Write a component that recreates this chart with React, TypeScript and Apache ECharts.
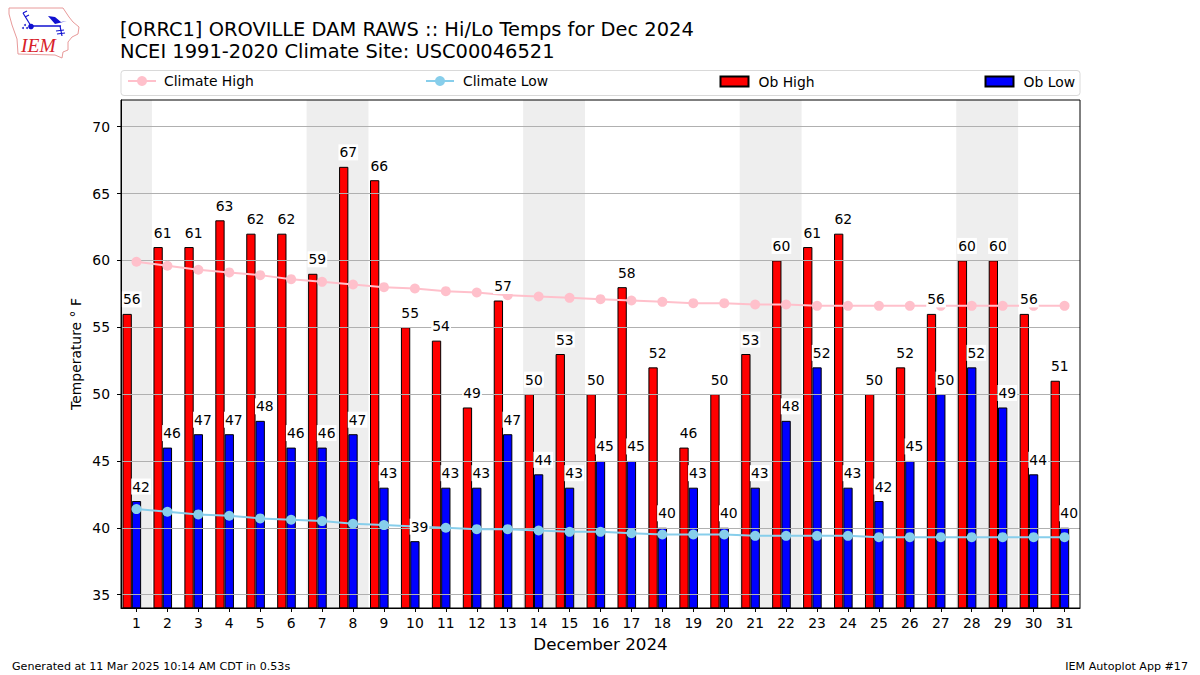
import React, { useEffect, useRef } from "react";
import * as echarts from "echarts";

const days = Array.from({ length: 31 }, (_, i) => String(i + 1));
const obHigh = [56,61,61,63,62,62,59,67,66,55,54,49,57,50,53,50,58,52,46,50,53,60,61,62,50,52,56,60,60,56,51];
const obLow = [42,46,47,47,48,46,46,47,43,39,43,43,47,44,43,45,45,40,43,40,43,48,52,43,42,45,50,52,49,44,40];
const climateHigh = [59.9,59.6,59.3,59.1,58.9,58.6,58.4,58.2,58,57.9,57.7,57.6,57.4,57.3,57.2,57.1,57,56.9,56.8,56.8,56.7,56.7,56.6,56.6,56.6,56.6,56.6,56.6,56.6,56.6,56.6];
const climateLow = [41.4,41.2,41,40.9,40.7,40.6,40.5,40.3,40.2,40.1,40,39.9,39.9,39.8,39.7,39.7,39.6,39.5,39.5,39.5,39.4,39.4,39.4,39.4,39.3,39.3,39.3,39.3,39.3,39.3,39.3];
const weekends: [number, number][] = [[0.5,1.5],[6.5,8.5],[13.5,15.5],[20.5,22.5],[27.5,29.5]];
const yTicks = [35,40,45,50,55,60,65,70];

const FONT = "DejaVu Sans";

function labelSeries(values: number[], dx: number) {
  return {
    type: "scatter",
    data: values,
    symbol: "circle",
    symbolSize: 1,
    z: 6,
    silent: true,
    itemStyle: { color: "rgba(0,0,0,0)", opacity: 1 },
    label: {
      show: true,
      position: "top" as const,
      distance: 6,
      offset: [dx, 0],
      color: "#000",
      opacity: 1,
      fontFamily: FONT,
      fontSize: 13.9,
      backgroundColor: "#fff",
      padding: [1, 1, 1, 1],
    },
  };
}

function legendEntry(name: string, left: number, itemHeight: number, gapAdjust: number) {
  return {
    data: [{ name, icon: itemHeight === 10 ? "rect" : undefined }],
    left,
    top: itemHeight === 10 ? 74.5 : 74,
    orient: "horizontal",
    padding: 0,
    itemWidth: 28,
    itemHeight,
    selectedMode: false,
    textStyle: { fontFamily: FONT, fontSize: 13.9, color: "#000", padding: [0, 0, 0, gapAdjust] },
  };
}

const logo = [
  { type: "polygon", shape: { points: [[9,8],[63,8],[69,17],[73,22],[79,27],[78,34],[72,37],[68,42],[68,50],[63,52],[62,58],[55,55],[18,54],[17,39],[12,25],[9,14]] }, style: { fill: "#fff", stroke: "#e89a9a", lineWidth: 1 } },
  { type: "polyline", shape: { points: [[31,26],[61,26]] }, style: { fill: "none", stroke: "#1010d0", lineWidth: 1.5 } },
  { type: "polyline", shape: { points: [[31,26],[23,13]] }, style: { fill: "none", stroke: "#1010d0", lineWidth: 1.2 } },
  { type: "polyline", shape: { points: [[23,13],[27,11]] }, style: { fill: "none", stroke: "#1010d0", lineWidth: 1.2 } },
  { type: "polyline", shape: { points: [[25,17],[29,15]] }, style: { fill: "none", stroke: "#1010d0", lineWidth: 1.2 } },
  { type: "polyline", shape: { points: [[60,26],[62,36]] }, style: { fill: "none", stroke: "#1010d0", lineWidth: 1.2 } },
  { type: "polyline", shape: { points: [[56,31],[64,30]] }, style: { fill: "none", stroke: "#1010d0", lineWidth: 1.2 } },
  { type: "polyline", shape: { points: [[57,34],[65,33]] }, style: { fill: "none", stroke: "#1010d0", lineWidth: 1.2 } },
  { type: "polygon", shape: { points: [[48,16],[55,17],[61,22],[67,21],[55,24]] }, style: { fill: "#1010d0" } },
  { type: "circle", shape: { cx: 31, cy: 26.5, r: 2.8 }, style: { fill: "#1010d0" } },
  { type: "circle", shape: { cx: 25, cy: 25, r: 1 }, style: { fill: "#3030d0" } },
  { type: "circle", shape: { cx: 23, cy: 28, r: 1 }, style: { fill: "#3030d0" } },
  { type: "circle", shape: { cx: 27, cy: 28, r: 1 }, style: { fill: "#3030d0" } },
  { type: "text", x: 21, y: 35, style: { text: "IEM", fill: "#d8212a", font: "italic 19.5px 'Liberation Serif'" } },
];

export default function App() {
  const ref = useRef<HTMLDivElement>(null);
  useEffect(() => {
    const chart = echarts.init(ref.current!, undefined, { renderer: "svg" });
    chart.setOption({
      animation: false,
      backgroundColor: "#fff",
      textStyle: { fontFamily: FONT },
      grid: { left: 121, right: 120, top: 100, bottom: 67, show: true, borderColor: "#000", borderWidth: 1, backgroundColor: "transparent", z: 5 },
      title: [
        { text: "[ORRC1] OROVILLE DAM RAWS :: Hi/Lo Temps for Dec 2024\nNCEI 1991-2020 Climate Site: USC00046521", left: 120, top: 18, padding: 0, textStyle: { fontFamily: FONT, fontSize: 19.44, fontWeight: "normal", color: "#000", lineHeight: 22.5 } },
        { text: "Generated at 11 Mar 2025 10:14 AM CDT in 0.53s", left: 12, top: 661, padding: 0, textStyle: { fontFamily: FONT, fontSize: 11.11, fontWeight: "normal", color: "#000" } },
        { text: "IEM Autoplot App #17", right: 12, top: 661, padding: 0, textStyle: { fontFamily: FONT, fontSize: 11.11, fontWeight: "normal", color: "#000" } },
      ],
      legend: [
        legendEntry("Climate High", 127, 12.5, 3),
        legendEntry("Climate Low", 425, 12.5, 4),
        legendEntry("Ob High", 719.5, 10, 5),
        legendEntry("Ob Low", 984.5, 10, 5),
      ],
      xAxis: [
        {
          type: "category",
          data: days,
          name: "December 2024",
          nameLocation: "middle",
          nameGap: 27,
          nameMoveOverlap: false,
          nameTextStyle: { fontFamily: FONT, fontSize: 16.7, color: "#000" },
          boundaryGap: true,
          axisLine: { show: true, lineStyle: { color: "#000", width: 1 } },
          axisTick: { show: true, alignWithLabel: true, length: 4, lineStyle: { color: "#000" } },
          axisLabel: { interval: 0, color: "#000", fontFamily: FONT, fontSize: 13.9, margin: 8 },
          splitLine: { show: false },
        },
        { type: "value", min: 0.5, max: 31.5, show: false, splitLine: { show: false } },
      ],
      yAxis: {
        type: "value",
        min: 34,
        max: 72,
        name: "Temperature ° F",
        nameLocation: "middle",
        nameGap: 38,
        nameMoveOverlap: false,
        nameTextStyle: { fontFamily: FONT, fontSize: 13.9, color: "#000" },
        z: 3,
        axisLine: { show: true, lineStyle: { color: "#000", width: 1 } },
        axisTick: { show: true, length: 4, lineStyle: { color: "#000" }, customValues: yTicks },
        axisLabel: { color: "#000", fontFamily: FONT, fontSize: 13.9, margin: 11, customValues: yTicks },
        splitNumber: 8,
        interval: 5,
        splitLine: { show: true, lineStyle: { color: "#b0b0b0", width: 1 } },
      },
      graphic: [
        { type: "rect", z: -1, shape: { x: 121, y: 70.5, width: 959, height: 25, r: 3 }, style: { fill: "#fff", stroke: "#d9d9d9", lineWidth: 1 } },
        ...logo,
      ],
      series: [
        {
          name: "weekend", type: "line", xAxisIndex: 1, data: [], z: 1, silent: true,
          markArea: {
            silent: true,
            itemStyle: { color: "#eeeeee", borderWidth: 0 },
            data: weekends.map(([a, b]) => [{ xAxis: a }, { xAxis: b }]),
          },
        },
        {
          name: "Ob High", type: "bar", data: obHigh, barWidth: 9.3, barGap: 0, z: 2,
          itemStyle: { color: "#ff0000", borderColor: "#000", borderWidth: 1 },
        },
        {
          name: "Ob Low", type: "bar", data: obLow, barWidth: 9.3, barGap: 0, z: 2,
          itemStyle: { color: "#0000ff", borderColor: "#000", borderWidth: 1 },
        },
        // an empty third slot puts the Ob Low bar on the tick, as in the reference
        { name: "spacer", type: "bar", data: [], barWidth: 9.3, barGap: 0, z: 2 },
        {
          name: "Climate High", type: "line", data: climateHigh, z: 4, symbol: "circle", symbolSize: 10,
          itemStyle: { color: "#ffc0cb" }, lineStyle: { color: "#ffc0cb", width: 2 },
        },
        {
          name: "Climate Low", type: "line", data: climateLow, z: 4, symbol: "circle", symbolSize: 10,
          itemStyle: { color: "#87ceeb" }, lineStyle: { color: "#87ceeb", width: 2 },
        },
        labelSeries(obHigh, -4.7),
        labelSeries(obLow, 4.6),
      ],
    });
    return () => chart.dispose();
  }, []);
  return <div ref={ref} style={{ width: 1200, height: 675, position: "fixed", left: 0, top: 0 }} />;
}
